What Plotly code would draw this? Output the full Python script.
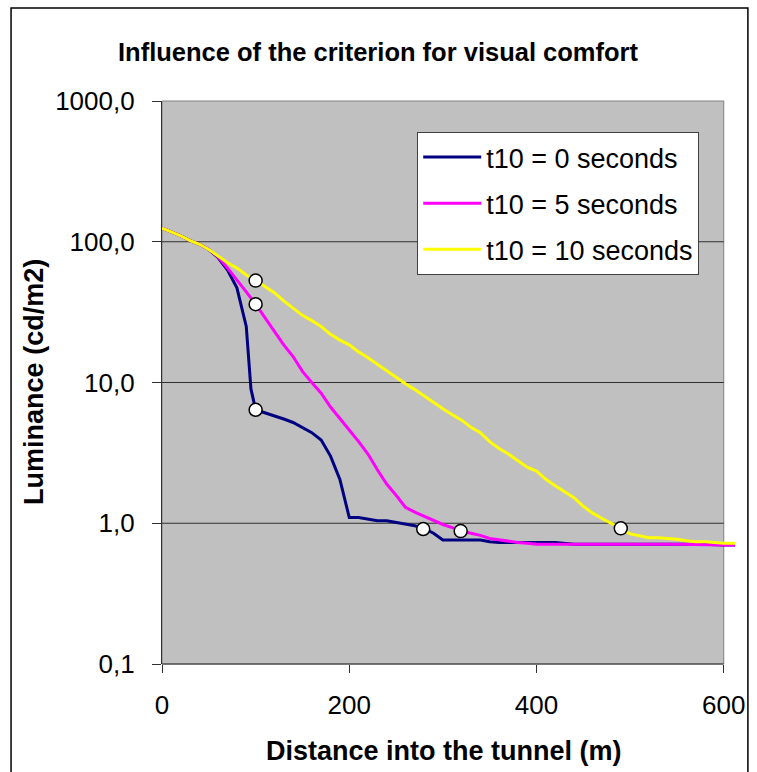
import plotly.graph_objects as go

# ---------------- data ----------------
x_t0 = [0, 10, 20, 30, 40, 50, 60, 70, 80, 90, 95, 100, 110, 120, 130, 140, 150, 160, 170, 180,
        190, 200, 210, 220, 230, 240, 250, 260, 270, 280, 290, 300, 310, 320, 330, 340, 350,
        360, 380, 400, 420, 440, 460, 480, 500, 520, 540, 560, 580, 600, 612]
y_t0 = [125, 118, 110, 102, 96, 88, 77, 63, 47, 25, 9, 6.4, 6.1, 5.8, 5.5, 5.2, 4.8, 4.4, 3.9, 3.0,
        2.05, 1.1, 1.1, 1.07, 1.04, 1.04, 1.01, 0.99, 0.96, 0.92, 0.85, 0.76, 0.76, 0.76, 0.76, 0.76, 0.74,
        0.73, 0.73, 0.73, 0.73, 0.71, 0.71, 0.71, 0.71, 0.71, 0.71, 0.71, 0.71, 0.70, 0.70]

x_t5 = [0, 10, 20, 30, 40, 50, 60, 70, 80, 90, 100, 110, 120, 130, 140, 150, 160, 170, 180, 190,
        200, 210, 220, 230, 240, 250, 260, 270, 280, 290, 300, 310, 320, 330, 340, 350, 360, 370,
        380, 390, 400, 450, 500, 550, 600, 612]
y_t5 = [125, 118, 110, 102, 96, 88, 78, 65, 54, 44, 36, 29, 23, 18.5, 15.3, 12, 10, 8.4, 6.7, 5.6,
        4.6, 3.8, 3.1, 2.4, 1.9, 1.58, 1.3, 1.2, 1.12, 1.05, 0.98, 0.93, 0.88, 0.85, 0.82, 0.78, 0.76, 0.74,
        0.73, 0.72, 0.71, 0.71, 0.71, 0.71, 0.70, 0.70]

x_t10 = [0, 10, 20, 30, 40, 50, 60, 70, 80, 90, 100, 110, 120, 130, 140, 150, 160, 170, 180, 190,
         200, 210, 220, 230, 240, 250, 260, 270, 280, 290, 300, 310, 320, 330, 340, 350, 360, 370,
         380, 390, 400, 410, 420, 430, 440, 450, 460, 470, 480, 490, 500, 510, 520, 530, 540, 550,
         560, 570, 580, 590, 600, 612]
y_t10 = [125, 118, 110, 102, 96, 88, 79, 71, 65, 58, 53, 48, 43.5, 38, 33.5, 30, 27.5, 25, 22, 20,
         18.5, 16.5, 15, 13.5, 12, 10.8, 9.8, 8.9, 8.0, 7.3, 6.5, 5.9, 5.4, 4.8, 4.4, 3.8, 3.4, 3.1,
         2.8, 2.5, 2.35, 2.05, 1.85, 1.68, 1.52, 1.32, 1.18, 1.08, 1.0, 0.92, 0.84, 0.81, 0.79, 0.79, 0.78, 0.77,
         0.75, 0.74, 0.74, 0.73, 0.72, 0.72]

marker_x = [100, 100, 100, 279, 319, 490]
marker_y = [6.4, 36, 53, 0.91, 0.88, 0.92]

series_names = ["t10 = 0 seconds", "t10 = 5 seconds", "t10 = 10 seconds"]
series_colors = ["#000080", "#FF00FF", "#FFFF00"]

x_tickvals = [0, 200, 400, 600]
y_tickvals = [0.1, 1, 10, 100, 1000]
y_ticktext = ["0,1", "1,0", "10,0", "100,0", "1000,0"]
grid_vals = [1, 10, 100]

title_text = "Influence of the criterion for visual comfort"
x_title = "Distance into the tunnel (m)"
y_title = "Luminance (cd/m2)"

# ---------------- layout geometry ----------------
W, H = 757, 772
ML, MR, MT, MB = 162, 18, 101, 108
X_MAX_AXIS = 600
X_RANGE = [0, 612]
PW = W - ML - MR
PH = H - MT - MB


def px_x(px):
    return (px - ML) / PW


def px_y(py):
    return (H - MB - py) / PH


FONT = "Liberation Sans, Arial, sans-serif"
TICK_SIZE = 26
LEG_SIZE = 27
AXT_SIZE = 27
TITLE_SIZE = 25.5

fig = go.Figure()
for xs, ys, name, col in zip([x_t0, x_t5, x_t10], [y_t0, y_t5, y_t10], series_names, series_colors):
    fig.add_trace(go.Scatter(x=xs, y=ys, mode="lines", name=name,
                             line=dict(color=col, width=3), legendgroup=name))

fig.add_trace(go.Scatter(x=marker_x, y=marker_y, mode="markers", showlegend=False,
                         marker=dict(size=13, color="white", line=dict(color="black", width=1.5)),
                         cliponaxis=False))

shapes = []
# plot-area background
shapes.append(dict(type="rect", xref="x", yref="paper", x0=0, x1=X_MAX_AXIS, y0=0, y1=1,
                   fillcolor="#C0C0C0", line=dict(color="#808080", width=1), layer="below"))
# gridlines
for g in grid_vals:
    shapes.append(dict(type="line", xref="x", yref="y", x0=0, x1=X_MAX_AXIS, y0=g, y1=g,
                       line=dict(color="#303030", width=1), layer="below"))
# bottom axis line
shapes.append(dict(type="line", xref="x", yref="paper", x0=0, x1=X_MAX_AXIS, y0=0, y1=0,
                   line=dict(color="#303030", width=1.2), layer="above"))
# outer frame
shapes.append(dict(type="rect", xref="paper", yref="paper",
                   x0=px_x(10), x1=px_x(752), y0=px_y(790), y1=px_y(8),
                   line=dict(color="black", width=1.5), fillcolor="rgba(0,0,0,0)", layer="above"))

annotations = [
    dict(text="<b>" + x_title + "</b>", xref="paper", yref="paper", x=px_x(446), y=px_y(751),
         xanchor="center", yanchor="middle", showarrow=False,
         font=dict(size=AXT_SIZE, family=FONT, color="black")),
    dict(text="<b>" + y_title + "</b>", xref="paper", yref="paper", x=px_x(33), y=px_y(382),
         xanchor="center", yanchor="middle", textangle=-90, showarrow=False,
         font=dict(size=AXT_SIZE, family=FONT, color="black")),
]

fig.update_layout(
    width=W, height=H,
    margin=dict(l=ML, r=MR, t=MT, b=MB, pad=0),
    paper_bgcolor="white", plot_bgcolor="white",
    font=dict(family=FONT, size=TICK_SIZE, color="black"),
    title=dict(text="<b>" + title_text + "</b>", x=378 / W, xanchor="center",
               y=1 - 52 / H, yanchor="middle", font=dict(size=TITLE_SIZE, family=FONT, color="black")),
    shapes=shapes,
    annotations=annotations,
    legend=dict(x=px_x(419), y=px_y(132), xanchor="left", yanchor="top",
                bgcolor="white", bordercolor="#404040", borderwidth=1, itemwidth=58,
                font=dict(size=LEG_SIZE, family=FONT, color="black"), tracegroupgap=8),
    showlegend=True,
)

fig.update_xaxes(range=X_RANGE, tickvals=x_tickvals, showgrid=False, zeroline=False,
                 showline=False, ticks="outside", ticklen=8, tickcolor="#303030",
                 ticklabelstandoff=10, tickfont=dict(size=TICK_SIZE, family=FONT, color="black"))
fig.update_yaxes(type="log", range=[-1, 3], tickvals=y_tickvals, ticktext=y_ticktext,
                 showgrid=False, zeroline=False, showline=True, linecolor="#303030", linewidth=1.2,
                 ticks="outside", ticklen=9, tickcolor="#303030", ticklabelstandoff=12,
                 tickfont=dict(size=TICK_SIZE, family=FONT, color="black"))

fig.write_html("out.html")
